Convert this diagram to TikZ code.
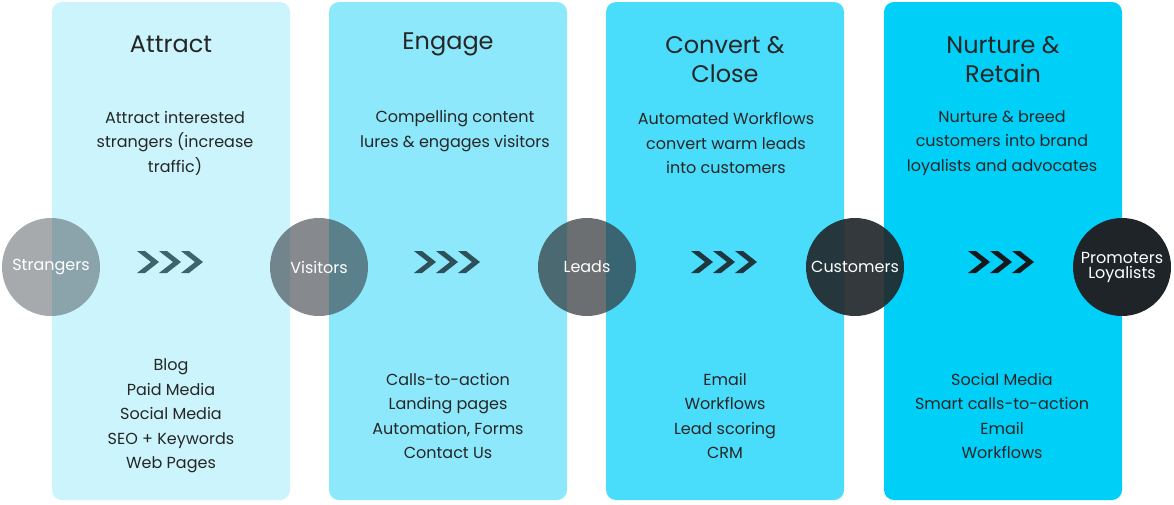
\documentclass[tikz,border=0pt]{standalone}
\usepackage{fontspec}
\setmainfont{Poppins}
\begin{document}
\begin{tikzpicture}[x=1pt,y=-1pt,
  panel/.style={rounded corners=10pt,draw=none},
  ttl/.style={align=center,font=\fontsize{24}{29}\selectfont,text=black!85},
  txt/.style={align=center,font=\fontsize{16}{24.5}\selectfont,text=black!85},
  circ/.style={circle,minimum size=98pt,inner sep=0pt,text=white,font=\fontsize{16}{18}\selectfont,align=center},
  chev/.style={fill=#1,draw=none}]
\useasboundingbox (0,0) rectangle (1174,504);
\definecolor{p1}{HTML}{CCF4FC}\definecolor{p2}{HTML}{8CE8FA}
\definecolor{p3}{HTML}{4ADCFB}\definecolor{p4}{HTML}{00D0F8}
\fill[p1,panel] (52,2) rectangle (290,500);
\fill[p2,panel] (329,2) rectangle (567,500);
\fill[p3,panel] (606,2) rectangle (844,500);
\fill[p4,panel] (884,2) rectangle (1122,500);
\node[ttl] (t1) at (171,44) {Attract};
\node[ttl] (t2) at (448,44) {Engage};
\node[ttl] (t3) at (725,60) {Convert \&\\Close};
\node[ttl] (t4) at (1003,60) {Nurture \&\\Retain};
\node[txt] (d1) at (175,143) {Attract interested\\strangers (increase\\traffic)};
\node[txt] (d2) at (455,131) {Compelling content\\lures \& engages visitors};
\node[txt] (d3) at (726,143) {Automated Workflows\\convert warm leads\\into customers};
\node[txt] (d4) at (1002,143) {Nurture \& breed\\customers into brand\\loyalists and advocates};
\node[txt] (l1) at (171,416) {Blog\\Paid Media\\Social Media\\SEO + Keywords\\Web Pages};
\node[txt] (l2) at (448,416) {Calls-to-action\\Landing pages\\Automation, Forms\\Contact Us};
\node[txt] (l3) at (725,416) {Email\\Workflows\\Lead scoring\\CRM};
\node[txt] (l4) at (1002,416) {Social Media\\Smart calls-to-action\\Email\\Workflows};
\node[circ,fill={rgb,255:red,60;green,66;blue,72},fill opacity=0.45,text opacity=1] (c1) at (51,267) {Strangers};
\node[circ,fill={rgb,255:red,60;green,66;blue,72},fill opacity=0.62,text opacity=1] (c2) at (319,267) {Visitors};
\node[circ,fill={rgb,255:red,50;green,56;blue,60},fill opacity=0.72,text opacity=1] (c3) at (587,267) {Leads};
\node[circ,fill={rgb,255:red,34;green,40;blue,44},fill opacity=0.92,text opacity=1] (c4) at (855,267) {Customers};
\node[circ,fill={rgb,255:red,30;green,36;blue,40},text=white] (c5) at (1122,267) {Promoters\\[-3pt]Loyalists};
\foreach \cx/\col in {170/{60,100,108},447/{45,80,90},724/{30,55,62},1001/{20,24,28}}{
  \definecolor{cc}{RGB}{\col}
  \foreach \k in {-22,0,22}{
    \fill[cc] ({\cx+\k-11},251) -- ({\cx+\k-3},251) -- ({\cx+\k+11},262) -- ({\cx+\k-3},273) -- ({\cx+\k-11},273) -- ({\cx+\k+3},262) -- cycle;
  }
}
\end{tikzpicture}
\end{document}
